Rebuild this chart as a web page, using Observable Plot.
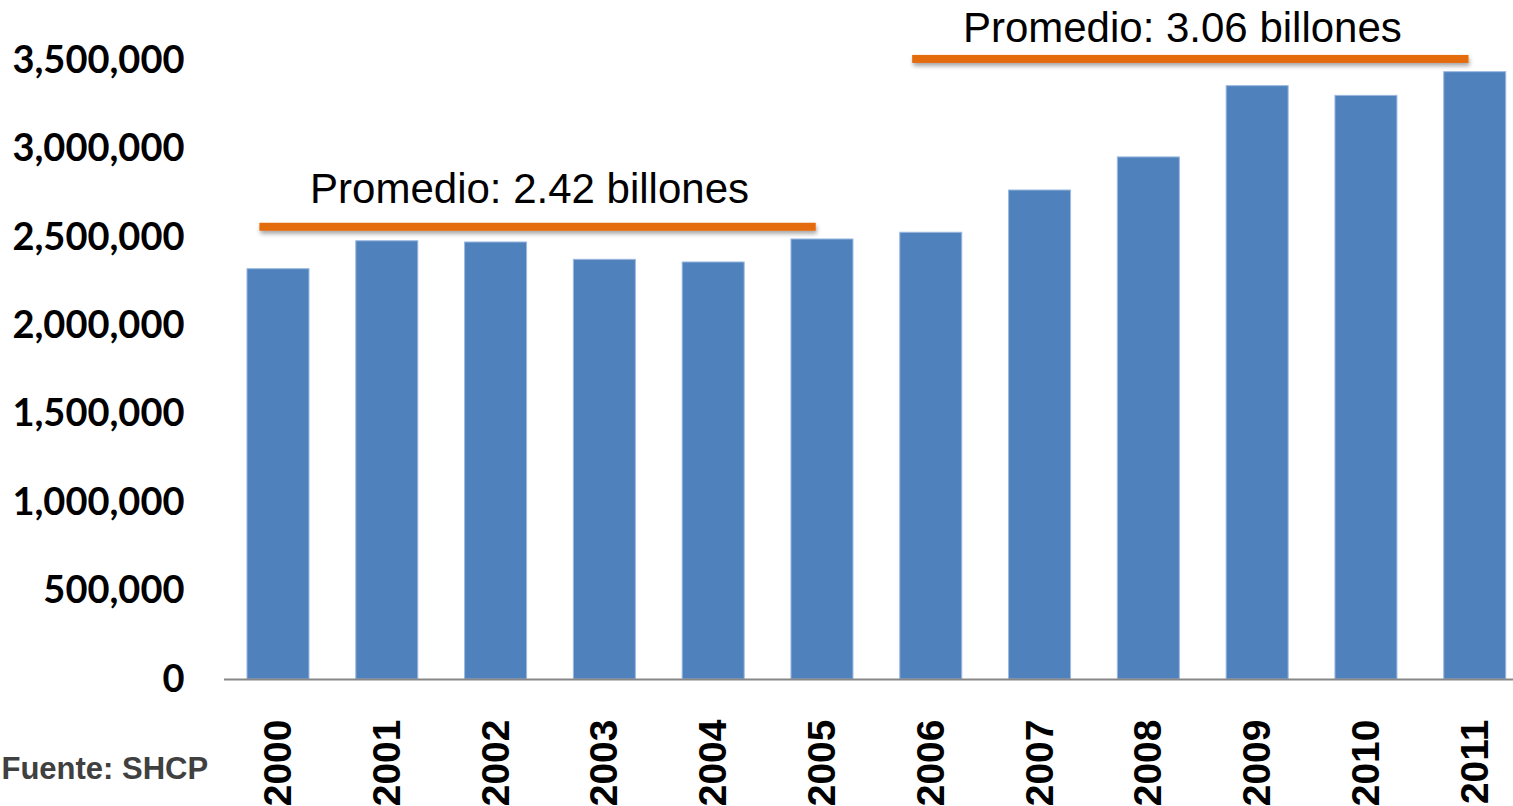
<!DOCTYPE html>
<html>
<head>
<meta charset="utf-8">
<script src="https://cdn.jsdelivr.net/npm/d3@7"></script>
<script src="https://cdn.jsdelivr.net/npm/@observablehq/plot@0.6"></script>
<style>
  html, body { margin: 0; padding: 0; background: #ffffff; }
  #chart svg { display: block; }
</style>
</head>
<body>
<div id="chart"></div>
<script>
// ---- data ----
const years = ["2000", "2001", "2002", "2003", "2004", "2005", "2006", "2007", "2008", "2009", "2010", "2011"];
const values = [2320000, 2478000, 2471000, 2373000, 2358000, 2488000, 2526000, 2765000, 2952000, 3355000, 3300000, 3434000];
const yTicks = [0, 500000, 1000000, 1500000, 2000000, 2500000, 3000000, 3500000];

// average annotations
const avgLabels = ["Promedio: 2.42 billones", "Promedio: 3.06 billones"];
const avgFrom = ["2000", "2006"];
const avgTo = ["2005", "2011"];
const avgLineValue = [2557000, 3506000];
const avgLabelValue = [2691000, 3603000];

const sourceText = "Fuente: SHCP";

const data = years.map((year, i) => ({year, value: values[i]}));

const chart = Plot.plot({
  width: 1513,
  height: 806,
  marginLeft: 224,
  marginRight: 0,
  marginTop: 60,
  marginBottom: 127,
  style: {fontFamily: "'Liberation Sans', Arial, sans-serif", background: "#ffffff", overflow: "visible"},
  x: {domain: years, paddingInner: 0.43, paddingOuter: 0.139, align: 0.76, round: false, label: null},
  y: {domain: [0, 3500000], label: null},
  marks: [
    Plot.barY(data, {x: "year", y: "value", fill: "#4F81BD", stroke: "#9DB9E0", strokeWidth: 1}),
    Plot.ruleY([0], {stroke: "#878787", strokeWidth: 2}),
    Plot.axisY({
      ticks: yTicks, tickFormat: d3.format(","), tickSize: 0, tickPadding: 40,
      fontSize: 38, fontWeight: "bold", fontFamily: "Lato, 'Liberation Sans', sans-serif",
      fill: "#000000", label: null
    }),
    Plot.axisX({
      tickRotate: -90, tickSize: 0, tickPadding: 40,
      fontSize: 39, fontWeight: "bold", fontFamily: "'Liberation Sans', Arial, sans-serif",
      fill: "#000000", label: null
    }),
    Plot.text([sourceText], {
      text: d => d, frameAnchor: "bottom-left", dx: -223, dy: 99,
      textAnchor: "start", lineAnchor: "bottom",
      fontSize: 31, fontWeight: "bold", fill: "#404040",
      fontFamily: "'Liberation Sans', Arial, sans-serif"
    })
  ]
});

document.getElementById("chart").appendChild(chart);

// ---- average annotations drawn with the chart's own scales ----
const xs = chart.scale("x");
const ys = chart.scale("y");
const bw = xs.bandwidth;
const svg = d3.select(chart);
const defs = svg.append("defs");
const filt = defs.append("filter").attr("id", "avgShadow")
  .attr("x", "-5%").attr("y", "-60%").attr("width", "110%").attr("height", "260%");
filt.append("feDropShadow").attr("dx", 1).attr("dy", 3).attr("stdDeviation", 2)
  .attr("flood-color", "#000").attr("flood-opacity", 0.35);

const g = svg.append("g").attr("class", "averages");
avgLabels.forEach((label, i) => {
  const x1 = xs.apply(avgFrom[i]) + 0.2 * bw;
  const x2 = xs.apply(avgTo[i]) + 0.4 * bw;
  const yl = ys.apply(avgLineValue[i]);
  g.append("rect")
    .attr("x", x1).attr("width", x2 - x1)
    .attr("y", yl - 4).attr("height", 8)
    .attr("fill", "#E46C0A")
    .attr("filter", "url(#avgShadow)");
  g.append("text")
    .attr("x", (x1 + x2) / 2 - 8)
    .attr("y", ys.apply(avgLabelValue[i]))
    .attr("text-anchor", "middle")
    .attr("font-family", "'Liberation Sans', Arial, sans-serif")
    .attr("font-size", 42)
    .attr("fill", "#000000")
    .text(label);
});
</script>
</body>
</html>
